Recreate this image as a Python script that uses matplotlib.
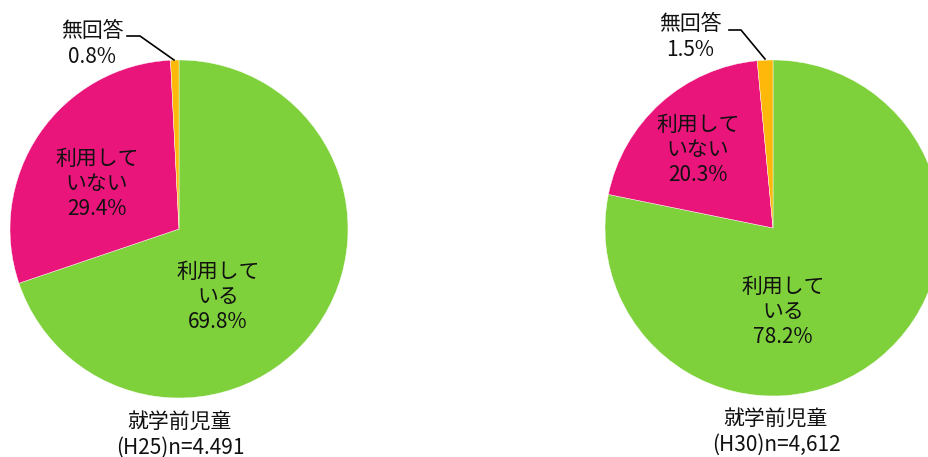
import matplotlib
matplotlib.use('Agg')
from matplotlib import pyplot as plt

plt.rcParams['font.family'] = ['Noto Sans CJK JP', 'DejaVu Sans']

categories = ['利用している', '利用していない', '無回答']
colors = ['#7FD13B', '#EA157A', '#FEB80A']

h25_values = [69.8, 29.4, 0.8]
h30_values = [78.2, 20.3, 1.5]

h25_caption = '就学前児童\n(H25)n=4.491'
h30_caption = '就学前児童\n(H30)n=4,612'

W, H = 929, 457
fig = plt.figure(figsize=(W / 100, H / 100), dpi=100)
ax = fig.add_axes([0, 0, 1, 1])

fs = 15


def draw(values, cx, cy, r, used_xy, notused_xy, na_xy, leader, caption_xy, caption):
    ax.pie(values, colors=colors, startangle=90, counterclock=False,
           center=(cx, H - cy), radius=r, frame=True,
           wedgeprops=dict(linewidth=0.3, edgecolor='white'))
    ax.text(used_xy[0], H - used_xy[1], '利用して\nいる\n%.1f%%' % values[0],
            ha='center', va='center', fontsize=fs, linespacing=1.18, color='#111111')
    ax.text(notused_xy[0], H - notused_xy[1], '利用して\nいない\n%.1f%%' % values[1],
            ha='center', va='center', fontsize=fs, linespacing=1.18, color='#111111')
    ax.text(na_xy[0], H - na_xy[1], '無回答\n%.1f%%' % values[2],
            ha='center', va='center', fontsize=fs, linespacing=1.18, color='#111111')
    lx = [p[0] for p in leader]
    ly = [H - p[1] for p in leader]
    ax.plot(lx, ly, color='black', lw=1.2)
    ax.text(caption_xy[0], H - caption_xy[1], caption,
            ha='center', va='center', fontsize=fs, linespacing=1.2, color='#111111')


draw(h25_values, 179, 229, 169, (218, 297), (97, 184), (92, 44),
     [(127, 36), (140, 36), (174, 60)], (180, 435), h25_caption)
draw(h30_values, 773, 228, 168, (783, 312), (698, 150), (690, 37),
     [(729, 30), (741, 30), (765, 59)], (776, 432), h30_caption)

ax.set_xlim(0, W)
ax.set_ylim(0, H)
ax.set_aspect('equal')
ax.axis('off')

fig.savefig('out.png', dpi=100, facecolor='white')
